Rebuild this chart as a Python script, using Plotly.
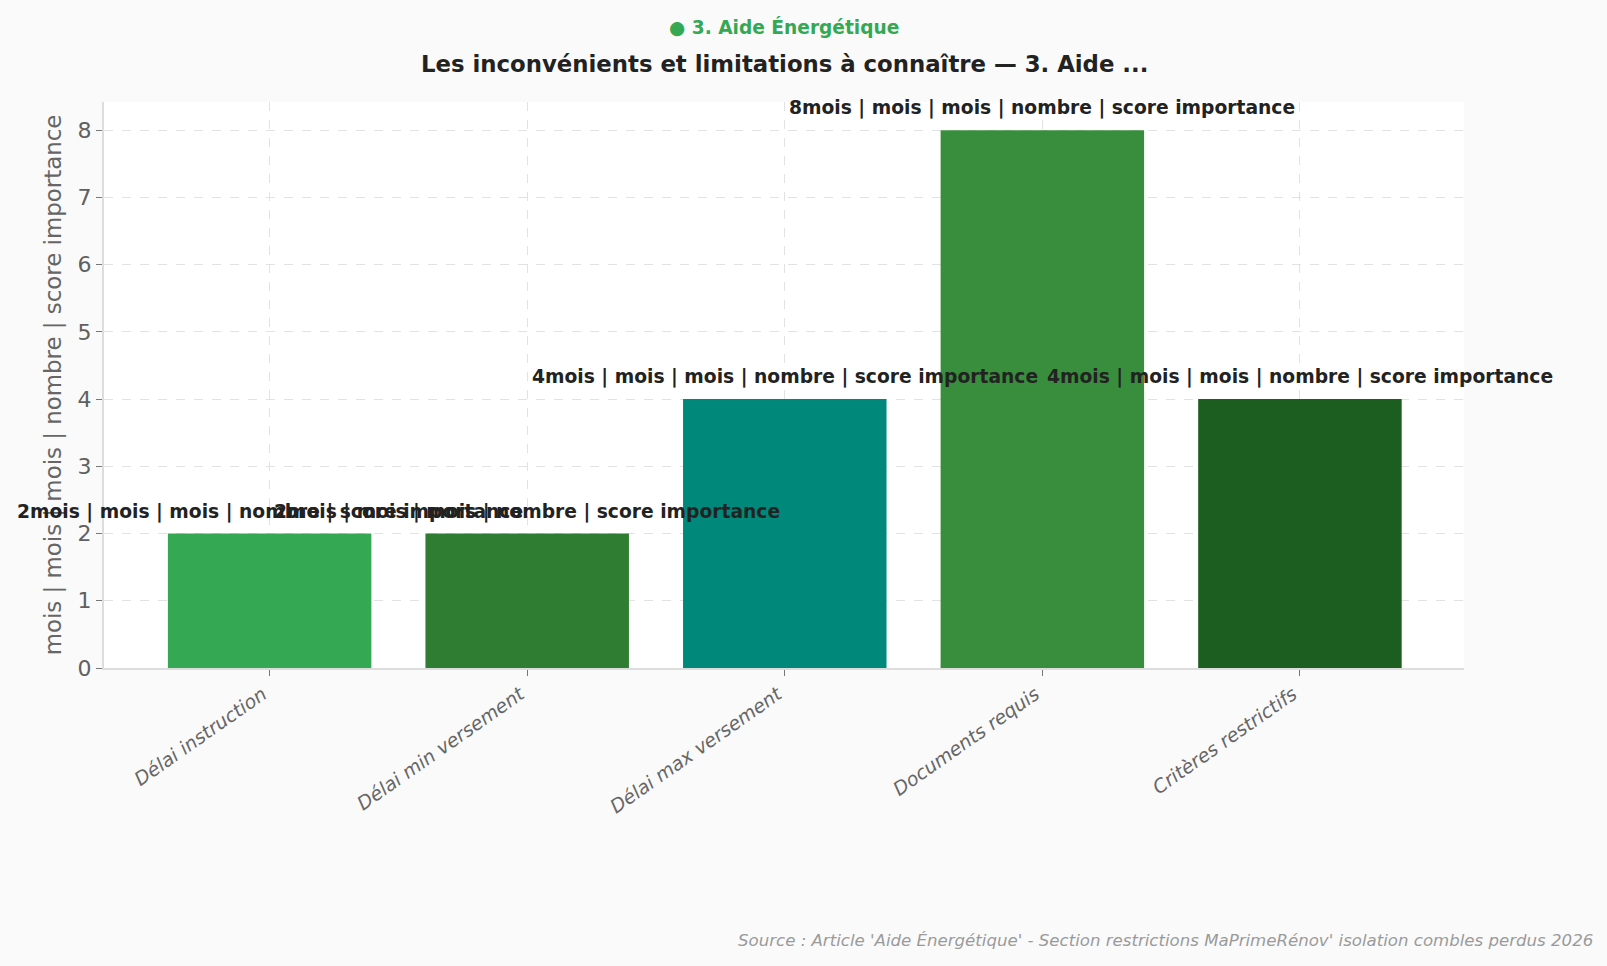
import plotly.graph_objects as go

categories = ["Délai instruction", "Délai min versement", "Délai max versement", "Documents requis", "Critères restrictifs"]
values = [2, 2, 4, 8, 4]
unit_label = "mois | mois | mois | nombre | score importance"
bar_colors = ["#34a853", "#2e7d32", "#00897b", "#388e3c", "#1b5e20"]

title_text = "Les inconvénients et limitations à connaître — 3. Aide ..."
subtitle_text = "● 3. Aide Énergétique"
source_text = "Source : Article 'Aide Énergétique' - Section restrictions MaPrimeRénov' isolation combles perdus 2026"

FONT = "DejaVu Sans"

fig = go.Figure()
fig.add_trace(go.Bar(
    x=categories,
    y=values,
    marker=dict(color=bar_colors, line=dict(width=0)),
    showlegend=False,
))

W, H = 1607, 966
ML, MR, MT, MB = 104, 143, 102, 298
plot_h = H - MT - MB
plot_w = W - ML - MR


def py(px):
    return (H - MB - px) / plot_h


def pxx(px):
    return (px - ML) / plot_w


annotations = []
# value labels drawn above bars (on top of all bars)
for c, v in zip(categories, values):
    annotations.append(dict(
        x=c, y=v, xref="x", yref="y", text=f"{v}{unit_label}", showarrow=False,
        xanchor="center", yanchor="middle", yshift=22,
        font=dict(family=FONT, size=18.7, color="#222222", weight="bold"),
    ))

annotations += [
    dict(text=subtitle_text, xref="paper", yref="paper", x=pxx(784), y=py(27),
         xanchor="center", yanchor="middle", showarrow=False,
         font=dict(family=FONT, size=18.6, color="#34a853", weight="bold")),
    dict(text=title_text, xref="paper", yref="paper", x=pxx(784), y=py(64), showarrow=False,
         xanchor="center", yanchor="middle",
         font=dict(family=FONT, size=22.8, color="#222222", weight="bold")),
    dict(text=source_text, xref="paper", yref="paper", x=pxx(1595), y=py(941), showarrow=False,
         xanchor="right", yanchor="middle",
         font=dict(family=FONT, size=16.6, color="#9a9a9a", style="italic")),
]

fig.update_layout(
    width=W, height=H,
    margin=dict(l=ML, r=MR, t=MT, b=MB),
    paper_bgcolor="#fafafa",
    plot_bgcolor="#ffffff",
    font=dict(family=FONT, color="#555555"),
    bargap=0.21,
    xaxis=dict(
        range=[-0.643, 4.637],
        showgrid=True, gridcolor="#e2e2e2", griddash="dash", gridwidth=1,
        showline=True, linecolor="#dddddd", linewidth=2,
        ticks="outside", ticklen=6, tickcolor="#777777",
        tickangle=-35,
        ticklabelshift=-7,
        tickfont=dict(family=FONT, size=19, color="#666666", style="italic"),
    ),
    yaxis=dict(
        range=[0, 8.42],
        dtick=1,
        showgrid=True, gridcolor="#e2e2e2", griddash="dash", gridwidth=1,
        zeroline=False,
        showline=True, linecolor="#dddddd", linewidth=2,
        ticks="outside", ticklen=6, tickcolor="#777777",
        tickfont=dict(family=FONT, size=22, color="#606060"),
        title=dict(text=unit_label, font=dict(family=FONT, size=22.9, color="#666666"), standoff=10),
    ),
    annotations=annotations,
)

fig.write_html("out.html")
